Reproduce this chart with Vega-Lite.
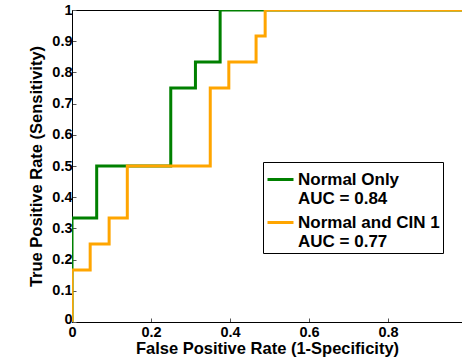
{
  "$schema": "https://vega.github.io/schema/vega-lite/v6.json",
  "width": 390,
  "height": 312,
  "autosize": {"type": "none"},
  "padding": {"left": 72, "top": 10, "right": 0, "bottom": 35},
  "background": "white",
  "config": {
    "view": {"stroke": "black", "strokeWidth": 1},
    "font": "Liberation Sans",
    "axis": {
      "grid": false,
      "domainColor": "black",
      "domainWidth": 1,
      "tickColor": "#555555",
      "tickSize": -4,
      "labelColor": "black",
      "labelFont": "Liberation Sans",
      "labelFontSize": 14.5,
      "labelFontWeight": "bold",
      "labelFlush": false,
      "titleColor": "black",
      "titleFont": "Liberation Sans",
      "titleFontSize": 16.5,
      "titleFontWeight": "bold"
    }
  },
  "data": {
    "values": [
      {"series": "Normal Only|AUC = 0.84", "i": 0, "fpr": 0, "tpr": 0},
      {"series": "Normal Only|AUC = 0.84", "i": 1, "fpr": 0, "tpr": 0.333},
      {"series": "Normal Only|AUC = 0.84", "i": 2, "fpr": 0.0625, "tpr": 0.333},
      {"series": "Normal Only|AUC = 0.84", "i": 3, "fpr": 0.0625, "tpr": 0.5},
      {"series": "Normal Only|AUC = 0.84", "i": 4, "fpr": 0.25, "tpr": 0.5},
      {"series": "Normal Only|AUC = 0.84", "i": 5, "fpr": 0.25, "tpr": 0.75},
      {"series": "Normal Only|AUC = 0.84", "i": 6, "fpr": 0.3125, "tpr": 0.75},
      {"series": "Normal Only|AUC = 0.84", "i": 7, "fpr": 0.3125, "tpr": 0.833},
      {"series": "Normal Only|AUC = 0.84", "i": 8, "fpr": 0.375, "tpr": 0.833},
      {"series": "Normal Only|AUC = 0.84", "i": 9, "fpr": 0.375, "tpr": 1},
      {"series": "Normal Only|AUC = 0.84", "i": 10, "fpr": 1, "tpr": 1},
      {"series": "Normal and CIN 1|AUC = 0.77", "i": 0, "fpr": 0, "tpr": 0},
      {"series": "Normal and CIN 1|AUC = 0.77", "i": 1, "fpr": 0, "tpr": 0.167},
      {"series": "Normal and CIN 1|AUC = 0.77", "i": 2, "fpr": 0.046, "tpr": 0.167},
      {"series": "Normal and CIN 1|AUC = 0.77", "i": 3, "fpr": 0.046, "tpr": 0.25},
      {"series": "Normal and CIN 1|AUC = 0.77", "i": 4, "fpr": 0.094, "tpr": 0.25},
      {"series": "Normal and CIN 1|AUC = 0.77", "i": 5, "fpr": 0.094, "tpr": 0.333},
      {"series": "Normal and CIN 1|AUC = 0.77", "i": 6, "fpr": 0.14, "tpr": 0.333},
      {"series": "Normal and CIN 1|AUC = 0.77", "i": 7, "fpr": 0.14, "tpr": 0.5},
      {"series": "Normal and CIN 1|AUC = 0.77", "i": 8, "fpr": 0.35, "tpr": 0.5},
      {"series": "Normal and CIN 1|AUC = 0.77", "i": 9, "fpr": 0.35, "tpr": 0.75},
      {"series": "Normal and CIN 1|AUC = 0.77", "i": 10, "fpr": 0.397, "tpr": 0.75},
      {"series": "Normal and CIN 1|AUC = 0.77", "i": 11, "fpr": 0.397, "tpr": 0.833},
      {"series": "Normal and CIN 1|AUC = 0.77", "i": 12, "fpr": 0.466, "tpr": 0.833},
      {"series": "Normal and CIN 1|AUC = 0.77", "i": 13, "fpr": 0.466, "tpr": 0.917},
      {"series": "Normal and CIN 1|AUC = 0.77", "i": 14, "fpr": 0.489, "tpr": 0.917},
      {"series": "Normal and CIN 1|AUC = 0.77", "i": 15, "fpr": 0.489, "tpr": 1},
      {"series": "Normal and CIN 1|AUC = 0.77", "i": 16, "fpr": 1, "tpr": 1}
    ]
  },
  "mark": {"type": "line", "strokeWidth": 3, "clip": true},
  "encoding": {
    "x": {
      "field": "fpr",
      "type": "quantitative",
      "scale": {"domain": [0, 0.9873], "nice": false},
      "axis": {
        "title": "False Positive Rate (1-Specificity)",
        "values": [0, 0.2, 0.4, 0.6, 0.8],
        "format": ".1~f",
        "labelPadding": 7,
        "titlePadding": 2
      }
    },
    "y": {
      "field": "tpr",
      "type": "quantitative",
      "scale": {"domain": [0, 1], "nice": false},
      "axis": {
        "title": "True Positive Rate (Sensitivity)",
        "values": [0, 0.1, 0.2, 0.3, 0.4, 0.5, 0.6, 0.7, 0.8, 0.9, 1],
        "format": ".1~f",
        "labelPadding": 4,
        "labelOffset": {"condition": {"test": "datum.value == 0", "value": -3}, "value": 0},
        "titlePadding": 7
      }
    },
    "color": {
      "field": "series",
      "type": "nominal",
      "scale": {
        "domain": ["Normal Only|AUC = 0.84", "Normal and CIN 1|AUC = 0.77"],
        "range": ["#008000", "#FFA500"]
      },
      "legend": {
        "title": null,
        "orient": "none",
        "legendX": 191,
        "legendY": 152,
        "symbolType": "stroke",
        "symbolSize": 676,
        "symbolStrokeWidth": 3,
        "labelExpr": "split(datum.label, '|')",
        "labelFont": "Liberation Sans",
        "labelFontSize": 17,
        "labelFontWeight": "bold",
        "labelColor": "black",
        "labelLimit": 300,
        "labelOffset": 3,
        "strokeColor": "black",
        "fillColor": "white",
        "padding": 3,
        "rowPadding": 1
      }
    },
    "order": {"field": "i"}
  }
}
